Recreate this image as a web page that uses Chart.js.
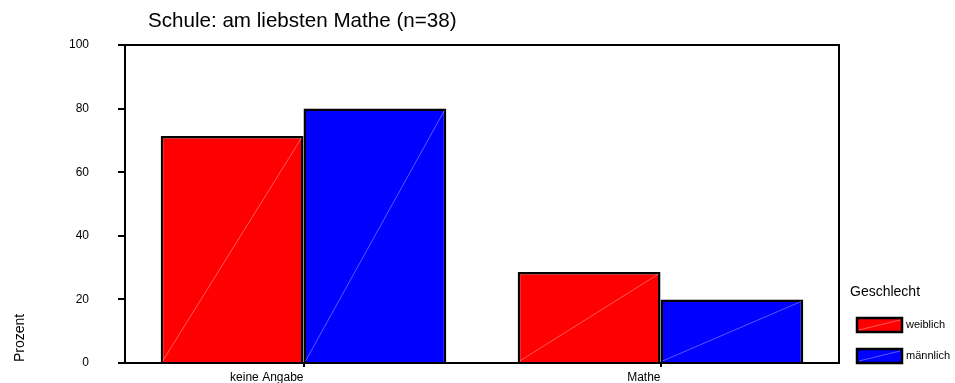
<!DOCTYPE html>
<html lang="de">
<head>
  <meta charset="UTF-8" />
  <title>Schule: am liebsten Mathe</title>
  <script src="https://cdn.jsdelivr.net/npm/chart.js"></script>
  <style>
    body {
      margin: 0;
      background: #fff;
    }
    .wrap {
      width: 955px;
      height: 383px;
      position: relative;
    }
  </style>
</head>
<body>
<div class="wrap"><canvas id="chart"></canvas></div>

<script>
  const categories = ['keine Angabe', 'Mathe'];
  const weiblich = [71.4, 28.6];
  const maennlich = [80, 20];
  const seriesNames = ['weiblich', 'männlich'];
  const seriesColors = ['#ff0000', '#0000ff'];
  const chartTitle = 'Schule: am liebsten Mathe (n=38)';
  const legendTitle = 'Geschlecht';
  const yTitle = 'Prozent';

  const FONT = '"Liberation Sans", Arial, sans-serif';

  // frame, hatch line through each bar, custom title / legend / axis title
  const decorations = {
    id: 'decorations',
    afterDatasetsDraw(chart) {
      const ctx = chart.ctx;
      ctx.save();
      ctx.strokeStyle = 'rgba(255,255,255,0.5)';
      ctx.lineWidth = 0.7;
      chart.data.datasets.forEach((ds, i) => {
        chart.getDatasetMeta(i).data.forEach(bar => {
          const p = bar.getProps(['x', 'y', 'base', 'width'], true);
          ctx.beginPath();
          ctx.moveTo(p.x - p.width / 2 + 2, p.base - 1);
          ctx.lineTo(p.x + p.width / 2 - 2, p.y + 2);
          ctx.stroke();
        });
      });
      ctx.restore();
    },
    afterDraw(chart) {
      const ctx = chart.ctx;
      const a = chart.chartArea;
      ctx.save();

      // top and right edges of the box
      ctx.strokeStyle = '#000';
      ctx.lineWidth = 2;
      ctx.beginPath();
      ctx.moveTo(a.left, a.top);
      ctx.lineTo(a.right, a.top);
      ctx.lineTo(a.right, a.bottom);
      ctx.stroke();

      ctx.fillStyle = '#000';
      ctx.textBaseline = 'alphabetic';
      ctx.textAlign = 'left';
      ctx.font = '20.6px ' + FONT;
      ctx.fillText(chartTitle, 148, 27);

      // y axis title
      ctx.save();
      ctx.translate(24, 338);
      ctx.rotate(-Math.PI / 2);
      ctx.textAlign = 'center';
      ctx.font = '14px ' + FONT;
      ctx.fillText(yTitle, 0, 0);
      ctx.restore();

      // legend
      ctx.font = '14px ' + FONT;
      ctx.fillText(legendTitle, 850, 296);
      ctx.font = '11px ' + FONT;
      chart.data.datasets.forEach((ds, i) => {
        const x = 857, y = 318 + i * 31, w = 45, h = 14;
        ctx.fillStyle = ds.backgroundColor;
        ctx.fillRect(x, y, w, h);
        ctx.strokeStyle = 'rgba(255,255,255,0.5)';
        ctx.lineWidth = 0.7;
        ctx.beginPath();
        ctx.moveTo(x + 2, y + h - 2);
        ctx.lineTo(x + w - 2, y + 2);
        ctx.stroke();
        ctx.strokeStyle = '#000';
        ctx.lineWidth = 2.5;
        ctx.strokeRect(x, y, w, h);
        ctx.fillStyle = '#000';
        ctx.textBaseline = 'middle';
        ctx.fillText(ds.label, 906, y + h / 2);
      });
      ctx.restore();
    }
  };

  new Chart(document.getElementById('chart'), {
    type: 'bar',
    data: {
      labels: categories,
      datasets: [
        { label: seriesNames[0], data: weiblich, backgroundColor: seriesColors[0] },
        { label: seriesNames[1], data: maennlich, backgroundColor: seriesColors[1] }
      ]
    },
    options: {
      responsive: true,
      maintainAspectRatio: false,
      animation: false,
      layout: { padding: { left: 0, top: 45, right: 116, bottom: 0 } },
      datasets: {
        bar: {
          categoryPercentage: 0.8,
          barPercentage: 1.0,
          borderColor: '#000',
          borderWidth: 2.5,
          borderSkipped: 'bottom'
        }
      },
      plugins: {
        legend: { display: false },
        title: { display: false },
        tooltip: { enabled: false }
      },
      scales: {
        x: {
          offset: true,
          afterFit: s => { s.height = 20; },
          grid: {
            offset: false,
            drawOnChartArea: false,
            tickLength: 4,
            lineWidth: 2,
            color: '#000'
          },
          border: { color: '#000', width: 2 },
          ticks: {
            align: 'end',
            padding: 3,
            color: '#000',
            font: { family: FONT, size: 12 }
          }
        },
        y: {
          min: 0,
          max: 100,
          // fixed axis width; the wide label gap must not push the plot up
          afterFit: s => {
            s.width = 125;
            s.paddingTop = 0;
            s.paddingBottom = 0;
          },
          grid: {
            drawOnChartArea: false,
            tickLength: 7,
            lineWidth: 2,
            color: '#000'
          },
          border: { color: '#000', width: 2 },
          ticks: {
            stepSize: 20,
            padding: 29,
            color: '#000',
            font: { family: FONT, size: 12 }
          }
        }
      }
    },
    plugins: [decorations]
  });
</script>
</body>
</html>
